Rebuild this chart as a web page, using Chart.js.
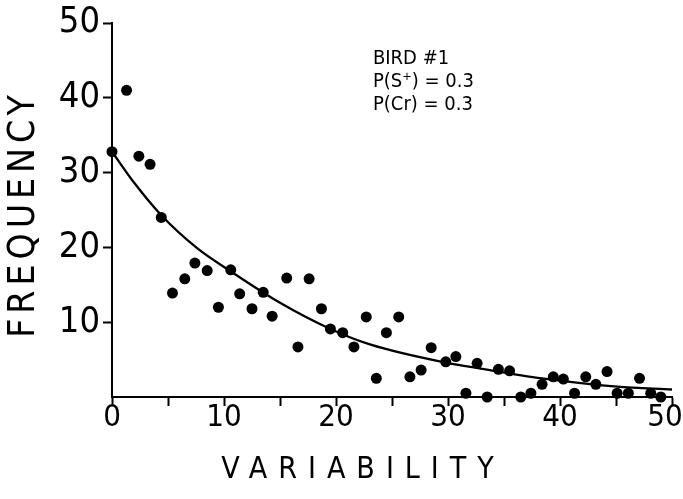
<!DOCTYPE html>
<html lang="en">

<head>
    <meta charset="UTF-8">
    <title>Bird #1 variability</title>
    <script src="https://cdn.jsdelivr.net/npm/chart.js"></script>
    <style>
        body { margin: 0; background: #fff; }
    </style>
</head>

<body>
    <div style="width: 683px; height: 499px;">
        <canvas id="myChart" width="683" height="499"></canvas>
    </div>

    <script>
        // observed points
        var variability = [0, 1.3, 2.4, 3.4, 4.4, 5.4, 6.5, 7.4, 8.5, 9.5,
            10.6, 11.4, 12.5, 13.5, 14.3, 15.6, 16.6, 17.6, 18.7, 19.5,
            20.6, 21.6, 22.7, 23.6, 24.5, 25.6, 26.6, 27.6, 28.5, 29.8,
            30.7, 31.6, 32.6, 33.5, 34.5, 35.5, 36.5, 37.4, 38.4, 39.4,
            40.3, 41.3, 42.3, 43.2, 44.2, 45.1, 46.1, 47.1, 48.1, 49.0];
        var frequency = [32.8, 41.0, 32.2, 31.1, 24.0, 13.9, 15.8, 17.9, 16.9, 12.0,
            17.0, 13.8, 11.8, 14.0, 10.8, 15.9, 6.7, 15.8, 11.8, 9.1,
            8.6, 6.7, 10.7, 2.5, 8.6, 10.7, 2.7, 3.6, 6.6, 4.7,
            5.4, 0.5, 4.5, 0, 3.7, 3.5, 0, 0.5, 1.7, 2.7,
            2.4, 0.5, 2.7, 1.7, 3.4, 0.5, 0.5, 2.5, 0.5, 0];

        // fitted curve, sampled along the drawn line
        var fitX = [0, 2, 4.4, 7.6, 10.6, 15, 19.5, 23.1, 29.8, 32.9, 38.4, 45.1, 50];
        var fitY = [32.8, 28.6, 24.3, 19.9, 16.8, 12.6, 9.1, 7.0, 4.6, 3.8, 2.5, 1.4, 1.0];

        var xTicks = [0, 10, 20, 30, 40, 50];
        var yTicks = [10, 20, 30, 40, 50];
        var noteLines = ['BIRD #1', 'P(S⁺) = 0.3', 'P(Cr) = 0.3'];

        var FONT = "'DejaVu Sans Condensed', 'Liberation Sans Narrow', 'DejaVu Sans', sans-serif";

        function toPts(xs, ys) {
            return xs.map(function (x, i) { return { x: x, y: ys[i] }; });
        }

        // spaced-out axis titles (canvas letterSpacing), x title sits a bit left of centre
        var spacedTitles = {
            id: 'spacedTitles',
            beforeDraw: function (chart) {
                var gaps = { x: '11px', y: '5px' };
                var shift = { x: [-29, 0], y: [0, 4] };
                Object.keys(chart.scales).forEach(function (id) {
                    var s = chart.scales[id];
                    if (s._spaced) return;
                    var orig = s.drawTitle;
                    s.drawTitle = function () {
                        var d = shift[id] || [0, 0];
                        this.ctx.save();
                        this.ctx.letterSpacing = gaps[id] || '0px';
                        this.ctx.translate(d[0], d[1]);
                        orig.apply(this, arguments);
                        this.ctx.restore();
                    };
                    s._spaced = true;
                });
            }
        };

        // the little note in the top right
        var note = {
            id: 'note',
            afterDraw: function (chart) {
                var ctx = chart.ctx;
                var x = chart.scales.x.getPixelForValue(23.3);
                var y = chart.scales.y.getPixelForValue(45.2);
                ctx.save();
                ctx.fillStyle = '#000';
                ctx.font = '20px ' + FONT;
                ctx.textBaseline = 'middle';
                noteLines.forEach(function (t, i) {
                    ctx.fillText(t, x, y + i * 23);
                });
                ctx.restore();
            }
        };

        const ctx = document.querySelector('#myChart');

        var myChart = new Chart(ctx, {
            type: 'scatter',
            data: {
                datasets: [
                    {
                        label: 'observed',
                        data: toPts(variability, frequency),
                        pointRadius: 5.5,
                        pointBackgroundColor: '#000',
                        pointBorderWidth: 0,
                        clip: false
                    },
                    {
                        label: 'fit',
                        type: 'line',
                        data: toPts(fitX, fitY),
                        borderColor: '#000',
                        borderWidth: 2.3,
                        pointRadius: 0,
                        cubicInterpolationMode: 'monotone',
                        fill: false
                    }
                ]
            },
            options: {
                responsive: false,
                animation: false,
                layout: { padding: { top: 23, right: 11, left: 0, bottom: 0 } },
                plugins: {
                    legend: { display: false },
                    tooltip: { enabled: false }
                },
                scales: {
                    x: {
                        type: 'linear',
                        min: 0,
                        max: 50,
                        afterFit: function (s) {
                            s.height = 102;
                            s.paddingLeft = 0;
                            s.paddingRight = 0;
                        },
                        border: { color: '#000', width: 2 },
                        grid: {
                            drawOnChartArea: false,
                            tickLength: 9,
                            tickWidth: 2,
                            tickColor: '#000'
                        },
                        ticks: {
                            stepSize: 5,
                            autoSkip: false,
                            maxRotation: 0,
                            padding: -4,
                            color: '#000',
                            font: { family: FONT, size: 31, lineHeight: 1 },
                            callback: function (v) {
                                if (xTicks.indexOf(v) < 0) return '';
                                // last label sits a little left of its tick, as in the original
                                return v === 50 ? v + '\u2002' : v;
                            }
                        },
                        title: {
                            display: true,
                            text: 'VARIABILITY',
                            color: '#000',
                            font: { family: FONT, size: 30, lineHeight: 1.2 },
                            padding: { top: 0, bottom: 11 }
                        }
                    },
                    y: {
                        min: 0,
                        max: 50,
                        afterFit: function (s) { s.width = 112; },
                        border: { color: '#000', width: 2 },
                        grid: {
                            drawOnChartArea: false,
                            tickLength: 9,
                            tickWidth: 2,
                            tickColor: function (c) { return c.tick && c.tick.value === 0 ? 'rgba(0,0,0,0)' : '#000'; }
                        },
                        ticks: {
                            stepSize: 10,
                            padding: 3,
                            color: '#000',
                            font: { family: FONT, size: 36, lineHeight: 1 },
                            callback: function (v) { return yTicks.indexOf(v) >= 0 ? v : ''; }
                        },
                        title: {
                            display: true,
                            text: 'FREQUENCY',
                            color: '#000',
                            font: { family: FONT, size: 37, lineHeight: 1 },
                            padding: { top: 6, bottom: 0 }
                        }
                    }
                }
            },
            plugins: [spacedTitles, note]
        });
    </script>

</body>

</html>
